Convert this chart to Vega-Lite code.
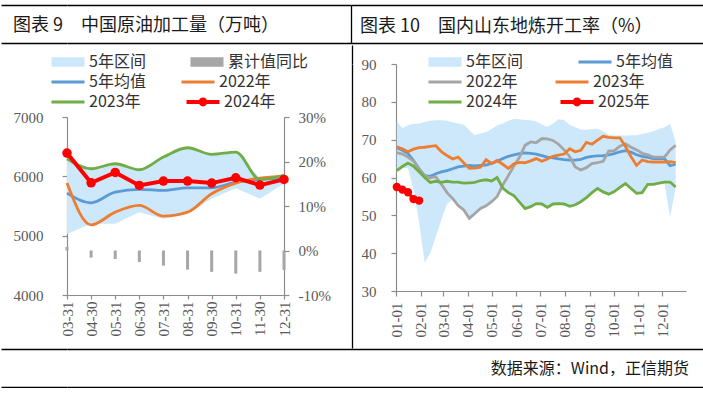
{
  "$schema": "https://vega.github.io/schema/vega-lite/v6.json",
  "padding": {"left": 0, "top": 4, "right": 0, "bottom": 0},
  "config": {
    "view": {"stroke": null},
    "font": "Noto Sans CJK SC",
    "axis": {"labelFont": "Liberation Serif", "labelFontSize": 15, "labelColor": "#595959", "domainColor": "#8c8c8c", "tickColor": "#8c8c8c", "domainWidth": 1.2, "tickWidth": 1.2, "grid": false, "labelOverlap": false},
    "legend": {"orient": "none", "title": null, "symbolSize": 121, "labelFont": "Noto Sans CJK SC", "labelFontSize": 16, "labelColor": "#333333", "labelOffset": 24, "labelLimit": 300, "rowPadding": 4, "padding": 0, "direction": "horizontal"}
  },
  "spacing": 0,
  "vconcat": [
    {
      "spacing": 0,
      "hconcat": [
        {
          "width": 284, "height": 38,
          "title": {"text": "图表 9　中国原油加工量（万吨）", "orient": "top", "anchor": "start", "frame": "group", "offset": -31, "dx": -54, "fontSize": 18, "fontWeight": "normal", "color": "#1a1a1a", "font": "Noto Sans CJK SC"},
          "data": {"values": [{"a": 0}, {"a": 1}]},
          "mark": {"type": "point", "size": 0, "opacity": 0},
          "encoding": {
            "x": {"field": "a", "type": "quantitative", "title": null, "scale": {"domain": [0, 1], "nice": false}, "axis": {"values": [1], "grid": true, "gridColor": "#000", "gridWidth": 1.3, "gridOpacity": 1, "domain": false, "ticks": false, "labels": false, "minExtent": 0, "maxExtent": 0}},
            "y": {"field": "a", "type": "quantitative", "title": null, "scale": {"domain": [0, 1], "nice": false}, "axis": {"orient": "left", "values": [0, 1], "grid": true, "gridColor": "#000", "gridWidth": 1.3, "gridOpacity": 1, "domain": false, "ticks": true, "tickSize": 66, "tickColor": "#000", "tickWidth": 1.3, "labels": false, "minExtent": 66, "maxExtent": 66}}
          }
        },
        {
          "width": 352, "height": 38,
          "title": {"text": "图表 10　国内山东地炼开工率（%）", "orient": "top", "anchor": "start", "frame": "group", "offset": -31, "dx": 9, "fontSize": 18, "fontWeight": "normal", "color": "#1a1a1a", "font": "Noto Sans CJK SC"},
          "data": {"values": [{"a": 0}, {"a": 1}]},
          "mark": {"type": "point", "size": 0, "opacity": 0},
          "encoding": {
            "y": {"field": "a", "type": "quantitative", "title": null, "scale": {"domain": [0, 1], "nice": false}, "axis": {"values": [0, 1], "grid": true, "gridColor": "#000", "gridWidth": 1.3, "gridOpacity": 1, "domain": false, "ticks": false, "labels": false, "minExtent": 0, "maxExtent": 0}}
          }
        }
      ]
    },
    {
      "spacing": 0,
      "resolve": {
        "scale": {"fill": "independent", "stroke": "independent", "opacity": "independent", "strokeWidth": "independent"},
        "legend": {"fill": "independent", "stroke": "independent", "opacity": "independent", "strokeWidth": "independent"}
      },
      "hconcat": [
        {
          "width": 217, "height": 231,
          "data": {"values": [
            {"m": "03-31", "lo": 5030, "hi": 6300, "avg": 5717, "y22": 5886, "y23": 6297, "y24": 6392, "yoy": 0.8},
            {"m": "04-30", "lo": 5200, "hi": 6128, "avg": 5554, "y22": 5182, "y23": 6128, "y24": 5891, "yoy": -1.6},
            {"m": "05-31", "lo": 5200, "hi": 6212, "avg": 5734, "y22": 5396, "y23": 6212, "y24": 6066, "yoy": -1.9},
            {"m": "06-30", "lo": 5396, "hi": 6111, "avg": 5779, "y22": 5509, "y23": 6111, "y24": 5846, "yoy": -2.6},
            {"m": "07-31", "lo": 5284, "hi": 6325, "avg": 5762, "y22": 5329, "y23": 6325, "y24": 5920, "yoy": -3.4},
            {"m": "08-31", "lo": 5370, "hi": 6482, "avg": 5807, "y22": 5396, "y23": 6482, "y24": 5920, "yoy": -4.3},
            {"m": "09-30", "lo": 5621, "hi": 6370, "avg": 5807, "y22": 5706, "y23": 6370, "y24": 5886, "yoy": -4.8},
            {"m": "10-31", "lo": 5801, "hi": 6409, "avg": 5903, "y22": 5886, "y23": 6409, "y24": 5976, "yoy": -5.2},
            {"m": "11-30", "lo": 5621, "hi": 5970, "avg": 5948, "y22": 5970, "y23": 5948, "y24": 5852, "yoy": -4.8},
            {"m": "12-31", "lo": 5875, "hi": 6015, "avg": 5976, "y22": 6004, "y23": 6015, "y24": 5948, "yoy": -4.4}
          ]},
          "encoding": {
            "x": {"field": "m", "type": "ordinal", "title": null, "scale": {"type": "point", "padding": 0}, "axis": {"labelAngle": -90, "tickSize": 4, "labelPadding": 2, "minExtent": 0}}
          },
          "layer": [
            {"mark": {"type": "area", "opacity": 1, "interpolate": "linear"},
             "encoding": {
               "y": {"field": "lo", "type": "quantitative", "title": null, "scale": {"domain": [4000, 7000], "range": [231, 53]}, "axis": {"orient": "left", "values": [4000, 5000, 6000, 7000], "format": "d", "tickSize": 5, "labelPadding": 19, "minExtent": 66}},
               "y2": {"field": "hi"},
               "fill": {
                 "datum": "5年区间",
                 "scale": {"domain": ["5年区间", "累计值同比"], "range": ["#cde8fa", "#a6a6a6"]},
                 "legend": {"legendX": -18, "legendY": -10, "columns": 2, "columnPadding": 42, "symbolType": "M-1,-0.85H5V0.85H-1Z", "symbolStrokeWidth": 0, "symbolOpacity": 1}
               }
             }},
            {"mark": {"type": "bar", "size": 3},
             "encoding": {
               "y": {"field": "yoy", "type": "quantitative", "title": null, "scale": {"domain": [-10, 30], "range": [231, 53]}, "axis": {"orient": "right", "values": [-10, 0, 10, 20, 30], "labelExpr": "datum.value + '%'", "tickSize": 5, "labelPadding": 9, "minExtent": 67}},
               "fill": {"datum": "累计值同比"}
             }},
            {"mark": {"type": "line", "strokeWidth": 2.8, "interpolate": "monotone"},
             "encoding": {
               "y": {"field": "avg", "type": "quantitative", "title": null, "scale": {"domain": [4000, 7000], "range": [231, 53]}, "axis": null},
               "stroke": {
                 "datum": "5年均值",
                 "scale": {"domain": ["5年均值", "2022年", "2023年"], "range": ["#5b9bd5", "#ed7d31", "#70ad47"]},
                 "legend": {"legendX": -18, "legendY": 10, "columns": 2, "columnPadding": 29, "symbolType": "M-1,0H5", "symbolStrokeWidth": 3}
               }
             }},
            {"mark": {"type": "line", "strokeWidth": 2.8, "interpolate": "monotone"},
             "encoding": {"y": {"field": "y22", "type": "quantitative", "title": null, "scale": {"domain": [4000, 7000], "range": [231, 53]}, "axis": null}, "stroke": {"datum": "2022年"}}},
            {"mark": {"type": "line", "strokeWidth": 2.8, "interpolate": "monotone"},
             "encoding": {"y": {"field": "y23", "type": "quantitative", "title": null, "scale": {"domain": [4000, 7000], "range": [231, 53]}, "axis": null}, "stroke": {"datum": "2023年"}}},
            {"mark": {"type": "line", "strokeWidth": 4, "color": "#ff0000"},
             "encoding": {"y": {"field": "y24", "type": "quantitative", "title": null, "scale": {"domain": [4000, 7000], "range": [231, 53]}, "axis": null}}},
            {"mark": {"type": "point", "filled": true, "size": 90, "color": "#ff0000"},
             "encoding": {
               "y": {"field": "y24", "type": "quantitative", "title": null, "scale": {"domain": [4000, 7000], "range": [231, 53]}, "axis": null},
               "opacity": {
                 "datum": "2024年", "type": "ordinal",
                 "scale": {"type": "ordinal", "domain": ["2024年"], "range": [1]},
                 "legend": {"legendX": 117, "legendY": 30, "symbolType": "M-1,-0.35H5V0.35H-1ZM2.8,0A0.8,0.8,0,1,1,1.2,0A0.8,0.8,0,1,1,2.8,0Z", "symbolFillColor": "#ff0000", "symbolStrokeWidth": 0}
               }
             }}
          ],
          "resolve": {"scale": {"y": "independent"}}
        },
        {
          "width": 1, "height": 284,
          "data": {"values": [{"a": 0}, {"a": 1}]},
          "mark": {"type": "point", "size": 0, "opacity": 0},
          "encoding": {
            "x": {"field": "a", "type": "quantitative", "title": null, "scale": {"domain": [0, 1], "nice": false}, "axis": {"orient": "top", "values": [0], "ticks": true, "tickSize": 19, "tickColor": "#000", "tickWidth": 1.3, "domain": false, "labels": false, "minExtent": 19, "maxExtent": 19}},
            "y": {"field": "a", "type": "quantitative", "title": null, "axis": {"orient": "left", "domainColor": "#000", "domainWidth": 1.3, "ticks": false, "labels": false, "minExtent": 0, "maxExtent": 0}}
          }
        },
        {
          "width": 290, "height": 227,
          "data": {"values": [
            {"d": "2025/01/02", "lo": 61.5, "hi": 74.8, "avg": 67.8, "y22": 66.6, "y23": 68.1, "y24": 61.8, "y25": 57.5},
            {"d": "2025/01/09", "lo": 62.5, "hi": 73.0, "avg": 67.2, "y22": 66.2, "y23": 67.6, "y24": 62.9, "y25": 56.8},
            {"d": "2025/01/16", "lo": 62.5, "hi": 73.8, "avg": 66.3, "y22": 65.4, "y23": 66.8, "y24": 63.8, "y25": 56.1},
            {"d": "2025/01/23", "lo": 56.7, "hi": 74.2, "avg": 64.5, "y22": 64.3, "y23": 67.5, "y24": 63.0, "y25": 54.3},
            {"d": "2025/01/30", "lo": 48.2, "hi": 74.2, "avg": 62.3, "y22": 62.3, "y23": 67.9, "y24": 61.5, "y25": 53.9},
            {"d": "2025/02/06", "lo": 37.5, "hi": 74.7, "avg": 60.5, "y22": 60.4, "y23": 68.0, "y24": 60.0},
            {"d": "2025/02/13", "lo": 40.0, "hi": 75.0, "avg": 60.3, "y22": 59.9, "y23": 68.2, "y24": 58.7},
            {"d": "2025/02/20", "lo": 44.5, "hi": 75.1, "avg": 61.0, "y22": 60.2, "y23": 68.4, "y24": 59.0},
            {"d": "2025/02/27", "lo": 48.8, "hi": 75.1, "avg": 61.5, "y22": 58.2, "y23": 66.8, "y24": 58.7},
            {"d": "2025/03/06", "lo": 53.0, "hi": 75.0, "avg": 61.8, "y22": 56.0, "y23": 65.8, "y24": 59.0},
            {"d": "2025/03/13", "lo": 54.2, "hi": 74.6, "avg": 62.3, "y22": 54.5, "y23": 64.9, "y24": 58.8},
            {"d": "2025/03/20", "lo": 52.3, "hi": 74.3, "avg": 62.8, "y22": 52.6, "y23": 65.4, "y24": 58.8},
            {"d": "2025/03/27", "lo": 51.1, "hi": 74.0, "avg": 63.0, "y22": 51.4, "y23": 63.9, "y24": 58.5},
            {"d": "2025/04/03", "lo": 48.9, "hi": 72.5, "avg": 63.2, "y22": 49.2, "y23": 62.4, "y24": 58.6},
            {"d": "2025/04/10", "lo": 50.2, "hi": 71.2, "avg": 63.1, "y22": 50.5, "y23": 62.5, "y24": 58.7},
            {"d": "2025/04/17", "lo": 51.5, "hi": 71.6, "avg": 63.2, "y22": 51.8, "y23": 62.7, "y24": 59.2},
            {"d": "2025/04/24", "lo": 52.2, "hi": 72.0, "avg": 63.3, "y22": 52.5, "y23": 64.7, "y24": 59.4},
            {"d": "2025/05/01", "lo": 53.3, "hi": 72.8, "avg": 63.7, "y22": 53.6, "y23": 63.7, "y24": 59.1},
            {"d": "2025/05/08", "lo": 54.7, "hi": 73.8, "avg": 64.3, "y22": 55.0, "y23": 64.5, "y24": 60.0},
            {"d": "2025/05/15", "lo": 56.8, "hi": 74.3, "avg": 65.0, "y22": 58.0, "y23": 63.5, "y24": 57.2},
            {"d": "2025/05/22", "lo": 55.7, "hi": 75.0, "avg": 65.6, "y22": 60.5, "y23": 62.4, "y24": 56.0},
            {"d": "2025/05/29", "lo": 54.9, "hi": 75.5, "avg": 66.0, "y22": 63.0, "y23": 63.6, "y24": 55.2},
            {"d": "2025/06/05", "lo": 53.2, "hi": 75.4, "avg": 66.3, "y22": 65.4, "y23": 64.0, "y24": 53.5},
            {"d": "2025/06/12", "lo": 51.5, "hi": 75.2, "avg": 66.5, "y22": 68.5, "y23": 63.9, "y24": 51.8},
            {"d": "2025/06/19", "lo": 52.0, "hi": 75.1, "avg": 66.4, "y22": 69.4, "y23": 64.4, "y24": 52.3},
            {"d": "2025/06/26", "lo": 52.8, "hi": 74.8, "avg": 66.2, "y22": 69.2, "y23": 65.0, "y24": 53.1},
            {"d": "2025/07/03", "lo": 52.7, "hi": 74.0, "avg": 65.8, "y22": 70.3, "y23": 64.3, "y24": 53.0},
            {"d": "2025/07/10", "lo": 51.8, "hi": 73.4, "avg": 65.4, "y22": 70.2, "y23": 64.9, "y24": 52.1},
            {"d": "2025/07/17", "lo": 52.7, "hi": 74.3, "avg": 65.2, "y22": 69.8, "y23": 65.6, "y24": 53.0},
            {"d": "2025/07/24", "lo": 52.8, "hi": 75.4, "avg": 64.9, "y22": 68.8, "y23": 65.9, "y24": 53.1},
            {"d": "2025/07/31", "lo": 52.7, "hi": 75.2, "avg": 64.7, "y22": 67.3, "y23": 66.2, "y24": 53.0},
            {"d": "2025/08/07", "lo": 52.1, "hi": 73.9, "avg": 64.6, "y22": 65.5, "y23": 67.6, "y24": 52.4},
            {"d": "2025/08/14", "lo": 52.5, "hi": 73.3, "avg": 64.6, "y22": 62.8, "y23": 66.8, "y24": 52.8},
            {"d": "2025/08/21", "lo": 53.3, "hi": 72.7, "avg": 64.8, "y22": 62.0, "y23": 67.2, "y24": 53.6},
            {"d": "2025/08/28", "lo": 54.4, "hi": 72.6, "avg": 65.3, "y22": 62.6, "y23": 69.3, "y24": 54.7},
            {"d": "2025/09/04", "lo": 55.7, "hi": 72.8, "avg": 65.6, "y22": 63.7, "y23": 68.8, "y24": 56.0},
            {"d": "2025/09/11", "lo": 56.8, "hi": 72.9, "avg": 65.7, "y22": 63.9, "y23": 69.9, "y24": 57.1},
            {"d": "2025/09/18", "lo": 55.9, "hi": 72.2, "avg": 65.8, "y22": 64.3, "y23": 70.9, "y24": 56.2},
            {"d": "2025/09/25", "lo": 55.3, "hi": 71.3, "avg": 66.0, "y22": 67.0, "y23": 70.6, "y24": 55.6},
            {"d": "2025/10/02", "lo": 56.0, "hi": 71.1, "avg": 66.3, "y22": 67.1, "y23": 70.5, "y24": 56.3},
            {"d": "2025/10/09", "lo": 57.1, "hi": 71.1, "avg": 66.8, "y22": 68.3, "y23": 70.5, "y24": 57.4},
            {"d": "2025/10/16", "lo": 58.1, "hi": 71.1, "avg": 67.1, "y22": 68.9, "y23": 68.2, "y24": 58.4},
            {"d": "2025/10/23", "lo": 56.8, "hi": 71.2, "avg": 66.7, "y22": 68.0, "y23": 65.5, "y24": 57.1},
            {"d": "2025/10/30", "lo": 55.5, "hi": 71.2, "avg": 66.0, "y22": 67.3, "y23": 63.2, "y24": 55.8},
            {"d": "2025/11/06", "lo": 55.7, "hi": 71.5, "avg": 65.6, "y22": 66.4, "y23": 64.6, "y24": 56.0},
            {"d": "2025/11/13", "lo": 57.9, "hi": 71.8, "avg": 65.3, "y22": 66.0, "y23": 64.2, "y24": 58.2},
            {"d": "2025/11/20", "lo": 57.9, "hi": 72.2, "avg": 65.0, "y22": 65.4, "y23": 64.1, "y24": 58.2},
            {"d": "2025/11/27", "lo": 58.2, "hi": 72.8, "avg": 65.0, "y22": 65.4, "y23": 64.1, "y24": 58.5},
            {"d": "2025/12/04", "lo": 58.5, "hi": 73.3, "avg": 65.0, "y22": 65.4, "y23": 64.1, "y24": 58.8},
            {"d": "2025/12/11", "lo": 49.5, "hi": 74.2, "avg": 63.1, "y22": 67.3, "y23": 64.2, "y24": 58.8},
            {"d": "2025/12/18", "lo": 57.2, "hi": 69.5, "avg": 63.5, "y22": 68.5, "y23": 63.9, "y24": 57.5}
          ]},
          "encoding": {
            "x": {"field": "d", "type": "temporal", "title": null,
                  "scale": {"domain": [{"year": 2025, "month": 1, "date": 1}, {"year": 2025, "month": 12, "date": 31}]},
                  "axis": {"format": "%m-%d", "labelAngle": -90, "tickCount": {"interval": "month", "step": 1}, "tickSize": 5, "labelPadding": 6, "minExtent": 0}}
          },
          "layer": [
            {"mark": {"type": "area", "opacity": 1, "interpolate": "linear"},
             "encoding": {
               "y": {"field": "lo", "type": "quantitative", "title": null, "scale": {"domain": [30, 90], "nice": false}, "axis": {"values": [30, 40, 50, 60, 70, 80, 90], "tickCount": 7, "tickSize": 5, "labelPadding": 15, "minExtent": 43}},
               "y2": {"field": "hi"},
               "fill": {
                 "datum": "5年区间",
                 "scale": {"domain": ["5年区间"], "range": ["#cde8fa"]},
                 "legend": {"legendX": 30, "legendY": -10, "symbolType": "M-1,-0.85H5V0.85H-1Z", "symbolStrokeWidth": 0, "symbolOpacity": 1}
               }
             }},
            {"mark": {"type": "line", "color": "#5b9bd5"},
             "encoding": {
               "y": {"field": "avg", "type": "quantitative", "title": null, "axis": {"values": [30, 40, 50, 60, 70, 80, 90], "tickCount": 7, "tickSize": 5, "labelPadding": 15, "minExtent": 43}},
               "strokeWidth": {
                 "datum": "5年均值", "type": "ordinal",
                 "scale": {"type": "ordinal", "domain": ["5年均值"], "range": [2.8]},
                 "legend": {"legendX": 180, "legendY": -10, "symbolType": "M-1,0H5", "symbolStrokeColor": "#5b9bd5"}
               }
             }},
            {"mark": {"type": "line", "strokeWidth": 2.8},
             "encoding": {
               "y": {"field": "y22", "type": "quantitative", "title": null, "axis": {"values": [30, 40, 50, 60, 70, 80, 90], "tickCount": 7, "tickSize": 5, "labelPadding": 15, "minExtent": 43}},
               "stroke": {
                 "datum": "2022年",
                 "scale": {"domain": ["2022年", "2023年", "2024年"], "range": ["#a5a5a5", "#ed7d31", "#70ad47"]},
                 "legend": {"legendX": 30, "legendY": 10, "columns": 2, "columnPadding": 31, "symbolType": "M-1,0H5", "symbolStrokeWidth": 3}
               }
             }},
            {"mark": {"type": "line", "strokeWidth": 2.8},
             "encoding": {"y": {"field": "y23", "type": "quantitative", "title": null, "axis": {"values": [30, 40, 50, 60, 70, 80, 90], "tickCount": 7, "tickSize": 5, "labelPadding": 15, "minExtent": 43}}, "stroke": {"datum": "2023年"}}},
            {"mark": {"type": "line", "strokeWidth": 2.8},
             "encoding": {"y": {"field": "y24", "type": "quantitative", "title": null, "axis": {"values": [30, 40, 50, 60, 70, 80, 90], "tickCount": 7, "tickSize": 5, "labelPadding": 15, "minExtent": 43}}, "stroke": {"datum": "2024年"}}},
            {"mark": {"type": "line", "strokeWidth": 3, "color": "#ff0000"},
             "encoding": {"y": {"field": "y25", "type": "quantitative", "title": null, "axis": {"values": [30, 40, 50, 60, 70, 80, 90], "tickCount": 7, "tickSize": 5, "labelPadding": 15, "minExtent": 43}}}},
            {"mark": {"type": "point", "filled": true, "size": 70, "color": "#ff0000"},
             "encoding": {
               "y": {"field": "y25", "type": "quantitative", "title": null, "axis": {"values": [30, 40, 50, 60, 70, 80, 90], "tickCount": 7, "tickSize": 5, "labelPadding": 15, "minExtent": 43}},
               "opacity": {
                 "datum": "2025年", "type": "ordinal",
                 "scale": {"type": "ordinal", "domain": ["2025年"], "range": [1]},
                 "legend": {"legendX": 162, "legendY": 30, "symbolType": "M-1,-0.35H5V0.35H-1ZM2.8,0A0.8,0.8,0,1,1,1.2,0A0.8,0.8,0,1,1,2.8,0Z", "symbolFillColor": "#ff0000", "symbolStrokeWidth": 0}
               }
             }}
          ]
        }
      ]
    },
    {
      "width": 637, "height": 38,
      "title": {"text": "数据来源：Wind，正信期货", "orient": "top", "anchor": "end", "frame": "group", "offset": -29, "dx": -15, "fontSize": 16, "fontWeight": "normal", "color": "#1a1a1a", "font": "Noto Sans CJK SC"},
      "data": {"values": [{"a": 0}, {"a": 1}]},
      "mark": {"type": "point", "size": 0, "opacity": 0},
      "encoding": {
        "y": {"field": "a", "type": "quantitative", "title": null, "scale": {"domain": [0, 1], "nice": false}, "axis": {"orient": "left", "values": [0, 1], "grid": true, "gridColor": "#000", "gridWidth": 1.3, "gridOpacity": 1, "domain": false, "ticks": true, "tickSize": 66, "tickColor": "#000", "tickWidth": 1.3, "labels": false, "minExtent": 66, "maxExtent": 66}}
      }
    }
  ]
}
